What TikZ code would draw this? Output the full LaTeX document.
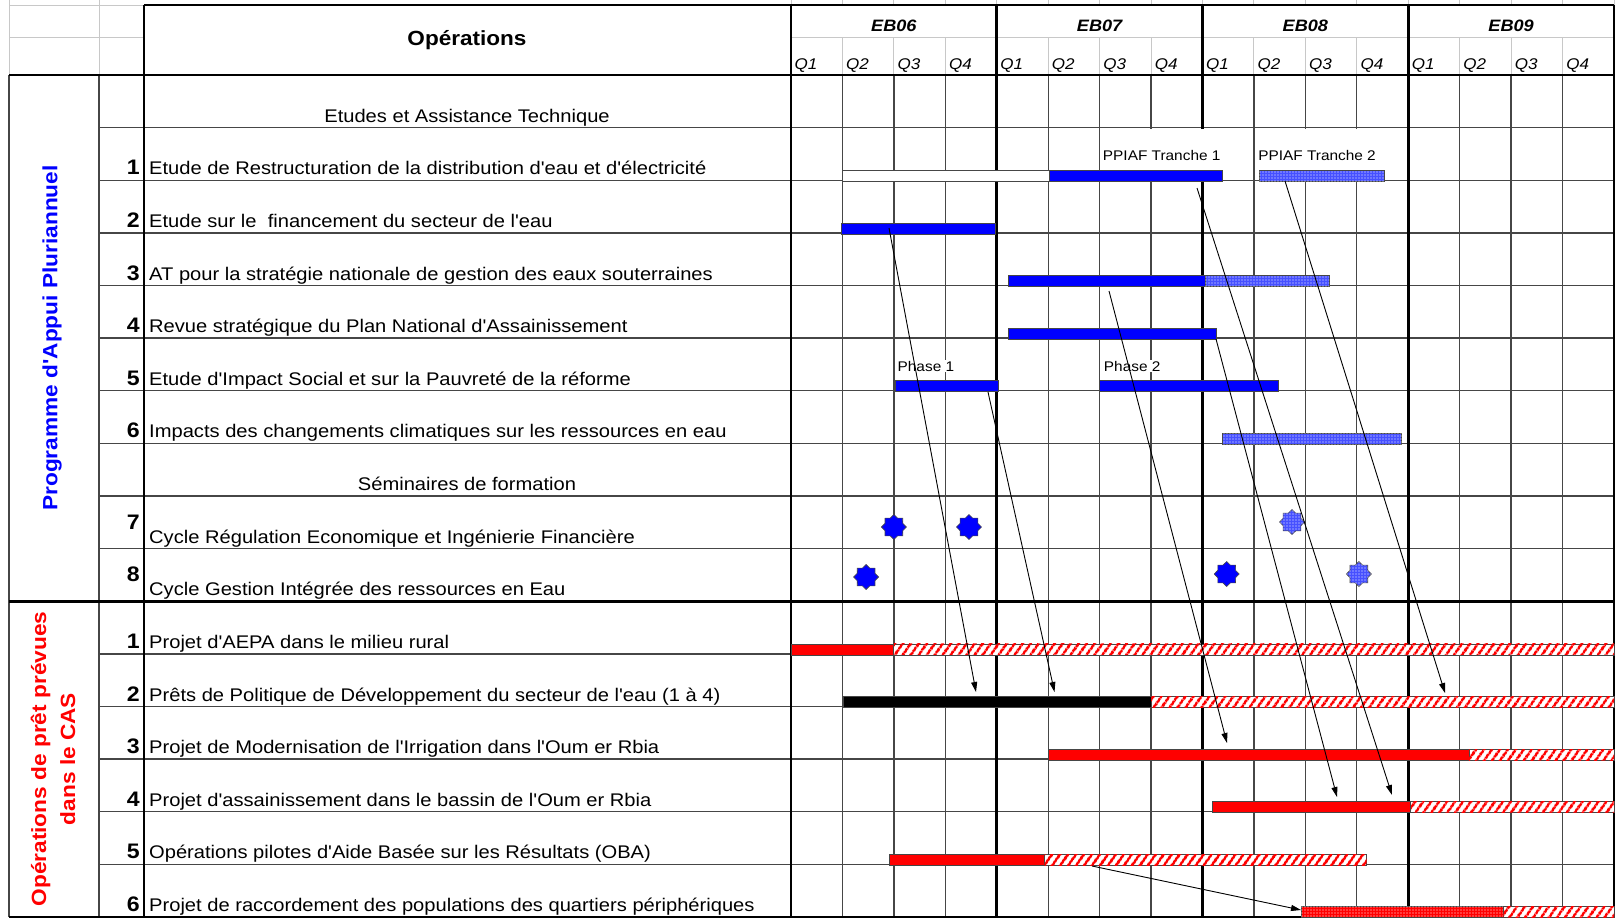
\documentclass[tikz,border=0pt]{standalone}
\usepackage{fontspec}
\setmainfont{Liberation Sans}[FakeStretch=1.1, Ligatures=TeXOff]
\usepackage{tikz}
\usetikzlibrary{
    arrows.meta,
    positioning,
    shapes.geometric,
    patterns.meta
}

\definecolor{barblue}{RGB}{0,0,255}
\definecolor{hatchblue}{RGB}{70,80,255}
\definecolor{barred}{RGB}{255,0,0}
\definecolor{gridgray}{RGB}{70,70,70}
\definecolor{cellgray}{RGB}{200,200,200}

\begin{document}
\begin{tikzpicture}[
    x=1pt, y=-1pt,
    >=Latex,
    cellline/.style={draw=cellgray, line width=1pt},
    thinline/.style={draw=gridgray, line width=1.3pt},
    thickline/.style={draw=black, line width=2.6pt},
    head/.style={font=\fontsize{20.5}{24}\selectfont\bfseries, inner sep=0pt},
    yearlab/.style={font=\fontsize{16.5}{18}\selectfont\bfseries\itshape, inner sep=0pt},
    qlab/.style={font=\fontsize{15.5}{18}\selectfont\itshape, inner sep=0pt,
                 anchor=base west, xshift=3.5pt},
    txt/.style={font=\fontsize{18.3}{20}\selectfont, inner sep=0pt, anchor=base west},
    subhead/.style={font=\fontsize{18.3}{20}\selectfont, inner sep=0pt, anchor=base},
    num/.style={font=\fontsize{21}{24}\selectfont\bfseries, inner sep=0pt, anchor=base east},
    sectlab/.style={font=\fontsize{20.6}{29}\selectfont\bfseries, inner sep=0pt,
                    rotate=90, align=center},
    barlab/.style={font=\fontsize{14}{15}\selectfont, inner sep=0pt, anchor=base west},
    phaselab/.style={barlab, fill=white, inner sep=1pt},
    labelbox/.style={fill=white},
    solidbar/.style={draw=gridgray, line width=0.8pt, fill=barblue},
    whitebar/.style={draw=gridgray, line width=0.8pt, fill=white},
    blackbar/.style={draw=gridgray, line width=0.8pt, fill=black},
    redbar/.style={draw=gridgray, line width=0.8pt, fill=barred},
    bluehatch/.style={draw=gridgray, line width=0.8pt, fill=hatchblue,
                      postaction={pattern={Dots[distance=3pt, radius=0.6pt]},
                                  pattern color=white}},
    reddots/.style={draw=gridgray, line width=0.8pt, fill=barred,
                    postaction={pattern={Dots[distance=3pt, radius=0.6pt]},
                                pattern color=white}},
    redstripe/.style={draw=gridgray, line width=0.8pt, fill=white,
                      postaction={pattern={Lines[angle=55, distance=6.5pt, line width=3pt]},
                                  pattern color=barred}},
    seminar/.style={star, star points=8, star point ratio=1.3,
                    minimum size=25pt, inner sep=0pt,
                    draw=gridgray, line width=0.6pt, fill=barblue},
    seminarhatch/.style={seminar, fill=hatchblue,
                         postaction={pattern={Dots[distance=3pt, radius=0.6pt]},
                                     pattern color=white}},
    link/.style={->, >={Triangle[length=10pt, width=6pt]}, line width=0.9pt, black}
]
\useasboundingbox (0,0) rectangle (1616,919);

% =========================
% 1) GRID
% =========================
% spreadsheet cells left of the header
\draw[cellline] (9,0) -- (9,75);
\draw[cellline] (99,0) -- (99,75);
\draw[cellline] (9,5) -- (144,5);
\draw[cellline] (9,37) -- (144,37);

% row separators
\foreach \r in {1,...,15}
    \draw[thinline] (99,{75+52.625*\r}) -- (1614,{75+52.625*\r});
\draw[thinline] (9,75) -- (9,917);
\draw[thinline] (99,75) -- (99,917);

% quarter columns
\begin{scope}[shift={(791,0)}, x=51.4375pt]
    \foreach \q in {0,...,16}
        \draw[cellline] (\q,0) -- (\q,5);
    \draw[cellline] (0,37) -- (16,37);
    \foreach \q in {1,2,3,5,6,7,9,10,11,13,14,15} {
        \draw[cellline] (\q,37) -- (\q,75);
        \draw[thinline] (\q,75) -- (\q,917);
    }
    \foreach \q in {0,4,8,12,16}
        \draw[thickline] (\q,5) -- (\q,917);
\end{scope}

% frame lines
\draw[thickline] (144,5) -- (1614,5);
\draw[thickline] (9,75) -- (1614,75);
\draw[thickline] (9,601.25) -- (1614,601.25);
\draw[thickline] (9,917) -- (1614,917);
\draw[thickline] (144,5) -- (144,917);

% =========================
% 2) HEADER
% =========================
\node[head] (ops) at (467,40) {Opérations};

\begin{scope}[shift={(791,0)}, x=51.4375pt]
    \node[yearlab] (eb06) at (2,26)  {EB06};
    \node[yearlab] (eb07) at (6,26)  {EB07};
    \node[yearlab] (eb08) at (10,26) {EB08};
    \node[yearlab] (eb09) at (14,26) {EB09};
    \foreach \yr in {0,4,8,12}
        \foreach \n in {1,...,4}
            \node[qlab] (q\yr\n) at ({\yr+\n-1},69) {Q\n};
\end{scope}

% =========================
% 3) ROW LABELS
% =========================
\node[sectlab, text=barblue] (pap) at (52,338) {Programme d'Appui Pluriannuel};
\node[sectlab, text=barred] (cas) at (53,759) {Opérations de prêt prévues\\dans le CAS};

\node[subhead] (etudes) at (467,122.1) {Etudes et Assistance Technique};
\node[num] (n1) at (140,174.75) {1};
\node[txt] (t1) at (149,174.75) {Etude de Restructuration de la distribution d'eau et d'électricité};
\node[num] (n2) at (140,227.4) {2};
\node[txt] (t2) at (149,227.4) {Etude sur le\ \ financement du secteur de l'eau};
\node[num] (n3) at (140,280) {3};
\node[txt] (t3) at (149,280) {AT pour la stratégie nationale de gestion des eaux souterraines};
\node[num] (n4) at (140,332.6) {4};
\node[txt] (t4) at (149,332.6) {Revue stratégique du Plan National d'Assainissement};
\node[num] (n5) at (140,385.25) {5};
\node[txt] (t5) at (149,385.25) {Etude d'Impact Social et sur la Pauvreté de la réforme};
\node[num] (n6) at (140,437.9) {6};
\node[txt] (t6) at (149,437.9) {Impacts des changements climatiques sur les ressources en eau};

\node[subhead] (semin) at (467,490.5) {Séminaires de formation};
\node[num, anchor=east] (n7) at (140,522) {7};
\node[txt] (t7) at (149,543.1) {Cycle Régulation Economique et Ingénierie Financière};
\node[num, anchor=east] (n8) at (140,574.5) {8};
\node[txt] (t8) at (149,595.6) {Cycle Gestion Intégrée des ressources en Eau};

\node[num] (p1) at (140,648.4) {1};
\node[txt] (l1) at (149,648.4) {Projet d'AEPA dans le milieu rural};
\node[num] (p2) at (140,701) {2};
\node[txt] (l2) at (149,701) {Prêts de Politique de Développement du secteur de l'eau (1 à 4)};
\node[num] (p3) at (140,753.6) {3};
\node[txt] (l3) at (149,753.6) {Projet de Modernisation de l'Irrigation dans l'Oum er Rbia};
\node[num] (p4) at (140,806.25) {4};
\node[txt] (l4) at (149,806.25) {Projet d'assainissement dans le bassin de l'Oum er Rbia};
\node[num] (p5) at (140,858.9) {5};
\node[txt] (l5) at (149,858.9) {Opérations pilotes d'Aide Basée sur les Résultats (OBA)};
\node[num] (p6) at (140,911.5) {6};
\node[txt] (l6) at (149,911.5) {Projet de raccordement des populations des quartiers périphériques};

% =========================
% 4) BARS (x in quarters)
% =========================
\begin{scope}[shift={(791,0)}, x=51.4375pt]
    % Programme d'Appui Pluriannuel
    \fill[labelbox] (6.03,129.2) rectangle (8.39,169.6);
    \fill[labelbox] (9.05,129.2) rectangle (11.53,169.6);
    \draw[whitebar]  (1,170.25)    rectangle (5.03,181.25);
    \draw[solidbar]  (5.03,170.25) rectangle (8.39,181.25);
    \draw[bluehatch] (9.1,170.25)  rectangle (11.53,181.25);
    \node[barlab] (tr1) at (6.06,160) {PPIAF Tranche 1};
    \node[barlab] (tr2) at (9.08,160) {PPIAF Tranche 2};

    \draw[solidbar]  (0.98,222.9)  rectangle (3.98,233.9);

    \draw[solidbar]  (4.23,275.5)  rectangle (8.05,286.5);
    \draw[bluehatch] (8.05,275.5)  rectangle (10.46,286.5);

    \draw[solidbar]  (4.23,328.1)  rectangle (8.27,339.1);

    \draw[solidbar]  (2.02,380.75) rectangle (4.04,391.75);
    \draw[solidbar]  (5.99,380.75) rectangle (9.48,391.75);
    \node[phaselab] (ph1) at (2.05,371) {Phase 1};
    \node[phaselab] (ph2) at (6.06,371) {Phase 2};

    \draw[bluehatch] (8.38,433.4)  rectangle (11.87,444.4);

    % seminars
    \node[seminar]      (s71) at (2,527)     {};
    \node[seminar]      (s72) at (3.46,527)  {};
    \node[seminarhatch] (s73) at (9.74,522)  {};
    \node[seminar]      (s81) at (1.46,577)  {};
    \node[seminar]      (s82) at (8.47,574)  {};
    \node[seminarhatch] (s83) at (11.04,574) {};

    % Operations de pret
    \draw[redbar]    (0,643.9)     rectangle (2,654.9);
    \draw[redstripe] (2,643.9)     rectangle (16,654.9);

    \draw[blackbar]  (1.015,696.5) rectangle (7,707.5);
    \draw[redstripe] (7,696.5)     rectangle (16,707.5);

    \draw[redbar]    (5,749.1)     rectangle (13.18,760.1);
    \draw[redstripe] (13.18,749.1) rectangle (16,760.1);

    \draw[redbar]    (8.19,801.75) rectangle (12.05,812.75);
    \draw[redstripe] (12.05,801.75) rectangle (16,812.75);

    \draw[redbar]    (1.92,854.4)  rectangle (4.93,865.4);
    \draw[redstripe] (4.93,854.4)  rectangle (11.19,865.4);

    \draw[reddots]   (9.92,906.5)  rectangle (13.85,917);
    \draw[redstripe] (13.85,906.5) rectangle (16,917);
\end{scope}

% =========================
% 5) LINKS
% =========================
\coordinate (fin)   at (889,228);
\coordinate (dpl1)  at (976,692);
\coordinate (imp1)  at (988,392);
\coordinate (dpl2)  at (1054.5,692);
\coordinate (souter) at (1109,291);
\coordinate (irrig) at (1227,743);
\coordinate (assai) at (1216,339);
\coordinate (oum1)  at (1337,797);
\coordinate (restr) at (1197,188);
\coordinate (oum2)  at (1392,795);
\coordinate (tranc) at (1285,181);
\coordinate (dpl3)  at (1445,693);
\coordinate (oba)   at (1092,866);
\coordinate (racc)  at (1301,910);

\draw[link] (fin) -- (dpl1);
\draw[link] (imp1) -- (dpl2);
\draw[link] (souter) -- (irrig);
\draw[link] (assai) -- (oum1);
\draw[link] (restr) -- (oum2);
\draw[link] (tranc) -- (dpl3);
\draw[link] (oba) -- (racc);

\end{tikzpicture}
\end{document}
